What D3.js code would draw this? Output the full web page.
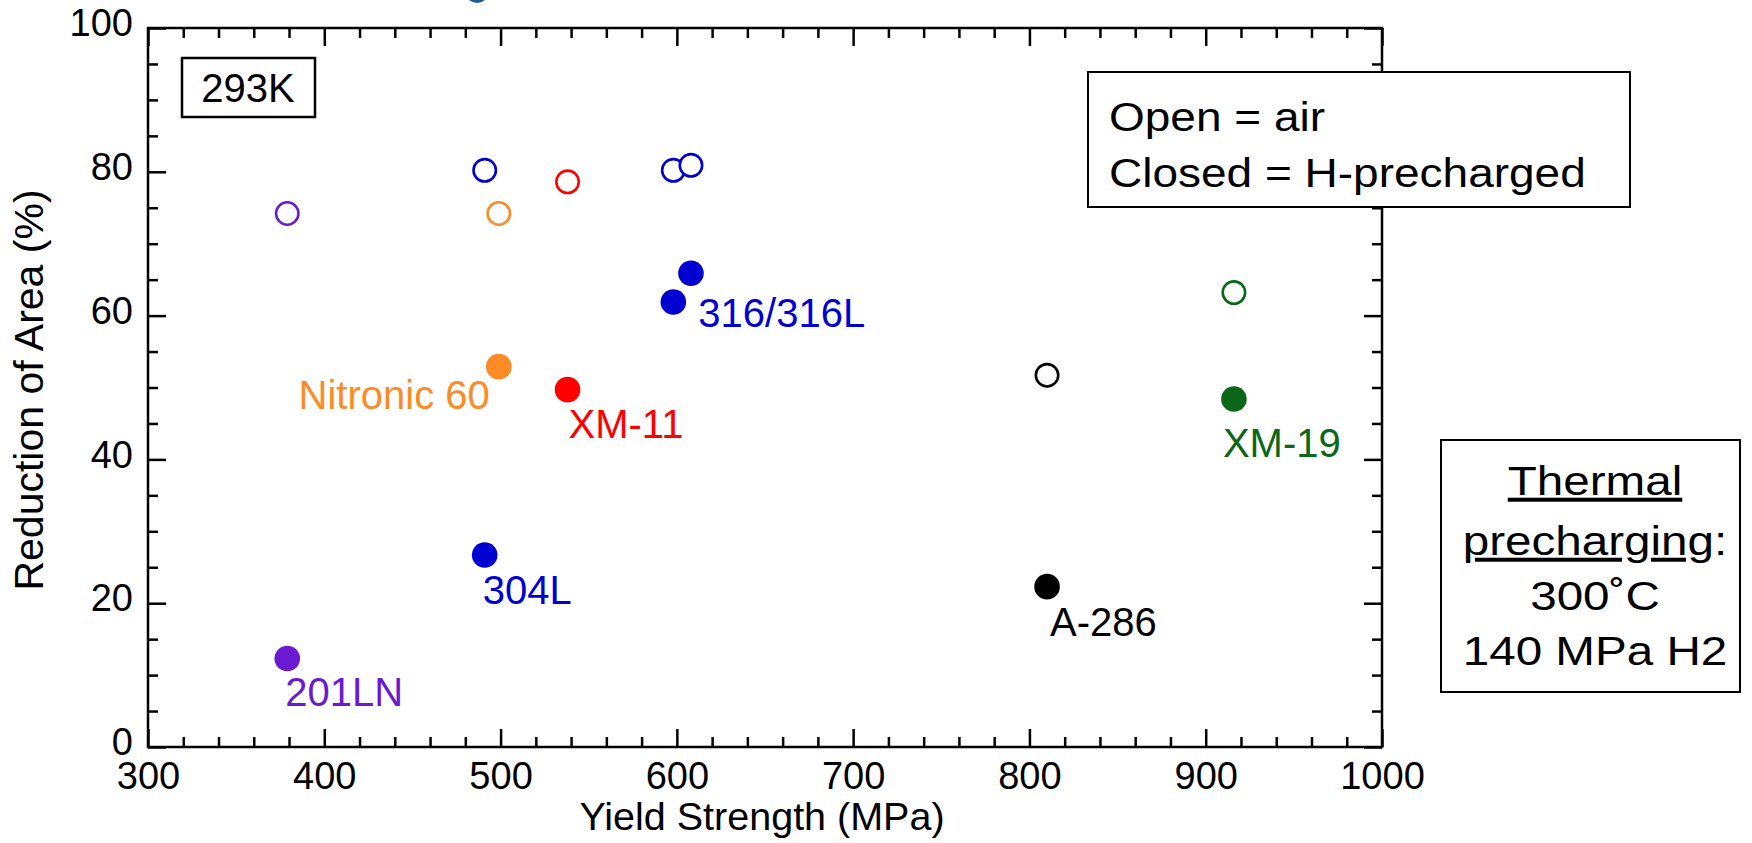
<!DOCTYPE html>
<html>
<head>
<meta charset="utf-8">
<script src="https://cdn.jsdelivr.net/npm/d3@7"></script>
<style>
body { margin: 0; background: #fff; }
text { font-family: "Liberation Sans", Arial, Helvetica, sans-serif; }
</style>
</head>
<body>
<div id="chart"></div>
<script>
// one entry per alloy point (316/316L has two heats)
var alloys = ["201LN", "304L", "Nitronic 60", "XM-11", "316/316L", "316/316L", "A-286", "XM-19"];
var alloyColors = ["#6a1bd1", "#0000d0", "#fd8b25", "#ff0000", "#0000d0", "#0000d0", "#000000", "#0a6618"];
var yieldStrength = [379, 491, 499, 538, 598, 608, 810, 916];
var raAir = [74.2, 80.2, 74.2, 78.6, 80.2, 80.9, 51.7, 63.2];
var raPrecharged = [12.3, 26.7, 52.9, 49.7, 61.9, 65.9, 22.3, 48.4];

var xTicks = [300, 400, 500, 600, 700, 800, 900, 1000];
var yTicks = [0, 20, 40, 60, 80, 100];

// which precharged point carries the name label
var labelPoint = [0, 1, 2, 3, 4, 6, 7];

function init() {
    var w = 1752;
    var h = 843;
    var font = '"Liberation Sans", Arial, Helvetica, sans-serif';

    // label offsets from the marker, pixels
    var labelDx = {"201LN": -2, "304L": -2, "Nitronic 60": -9, "XM-11": 1, "316/316L": 25, "A-286": 3, "XM-19": -11};
    var labelDy = {"201LN": 47, "304L": 49, "Nitronic 60": 42, "XM-11": 48, "316/316L": 25, "A-286": 49, "XM-19": 58};
    var labelAnchor = {"Nitronic 60": "end"};

    var x = d3.scaleLinear().domain([300, 1000]).range([148, 1382]);
    var y = d3.scaleLinear().domain([0, 100]).range([747, 28]);

    var xMinor = d3.range(300, 1000, 20).filter(function(d) { return d % 100 != 0; });
    var yMinor = d3.range(0, 100, 5).filter(function(d) { return d % 20 != 0; });

    var svg = d3.select("#chart")
                .append("svg")
                .attr("width", w)
                .attr("height", h);

    // bit of a blue marker cut off at the top edge
    svg.append("circle")
        .attr("cx", 477).attr("cy", -9).attr("r", 10)
        .attr("fill", "none").attr("stroke", "#1d5c99").attr("stroke-width", 4);

    function tidy(g) {
        g.attr("font-family", font).attr("font-size", 38);
        g.select(".domain").remove();
        g.selectAll(".tick line").attr("stroke", "#000").attr("stroke-width", 2.5);
        g.selectAll(".tick text").attr("fill", "#000");
    }

    svg.append("g").attr("transform", "translate(0,747)")
        .call(d3.axisBottom(x).tickValues(xTicks).tickSize(-18).tickPadding(15).tickFormat(d3.format("d")))
        .call(tidy);
    svg.append("g").attr("transform", "translate(0,747)")
        .call(d3.axisBottom(x).tickValues(xMinor).tickSize(-10).tickFormat(""))
        .call(tidy);
    svg.append("g").attr("transform", "translate(0,28)")
        .call(d3.axisTop(x).tickValues(xTicks).tickSize(-18).tickFormat(""))
        .call(tidy);
    svg.append("g").attr("transform", "translate(0,28)")
        .call(d3.axisTop(x).tickValues(xMinor).tickSize(-10).tickFormat(""))
        .call(tidy);

    svg.append("g").attr("transform", "translate(148,0)")
        .call(d3.axisLeft(y).tickValues(yTicks).tickSize(-18).tickPadding(15))
        .call(tidy)
        .selectAll(".tick text").attr("dy", "0.2em");
    svg.append("g").attr("transform", "translate(148,0)")
        .call(d3.axisLeft(y).tickValues(yMinor).tickSize(-10).tickFormat(""))
        .call(tidy);
    svg.append("g").attr("transform", "translate(1382,0)")
        .call(d3.axisRight(y).tickValues(yTicks).tickSize(-18).tickFormat(""))
        .call(tidy);
    svg.append("g").attr("transform", "translate(1382,0)")
        .call(d3.axisRight(y).tickValues(yMinor).tickSize(-10).tickFormat(""))
        .call(tidy);

    svg.append("rect")
        .attr("x", x(300)).attr("y", y(100))
        .attr("width", x(1000) - x(300)).attr("height", y(0) - y(100))
        .attr("fill", "none").attr("stroke", "#000").attr("stroke-width", 2.5);

    // axis titles
    svg.append("text")
        .attr("x", 762).attr("y", 830)
        .attr("text-anchor", "middle")
        .style("font-size", "39.5px")
        .text("Yield Strength (MPa)");
    svg.append("text")
        .attr("transform", "translate(43,390) rotate(-90)")
        .attr("text-anchor", "middle")
        .style("font-size", "41px")
        .text("Reduction of Area (%)");

    // open = air
    svg.selectAll(".air")
        .data(yieldStrength)
        .enter()
        .append("circle")
        .attr("class", "air")
        .attr("cx", function(d) { return x(d); })
        .attr("cy", function(d, i) { return y(raAir[i]); })
        .attr("r", 11.2)
        .attr("fill", "#fff")
        .attr("stroke", function(d, i) { return alloyColors[i]; })
        .attr("stroke-width", 2.6);

    // closed = H-precharged
    svg.selectAll(".h2")
        .data(yieldStrength)
        .enter()
        .append("circle")
        .attr("class", "h2")
        .attr("cx", function(d) { return x(d); })
        .attr("cy", function(d, i) { return y(raPrecharged[i]); })
        .attr("r", 12.8)
        .attr("fill", function(d, i) { return alloyColors[i]; });

    svg.selectAll(".lbl")
        .data(labelPoint)
        .enter()
        .append("text")
        .attr("class", "lbl")
        .attr("x", function(i) { return x(yieldStrength[i]) + labelDx[alloys[i]]; })
        .attr("y", function(i) { return y(raPrecharged[i]) + labelDy[alloys[i]]; })
        .attr("text-anchor", function(i) { return labelAnchor[alloys[i]] || "start"; })
        .attr("fill", function(i) { return alloyColors[i]; })
        .style("font-size", "40px")
        .text(function(i) { return alloys[i]; });

    // temperature tag
    svg.append("rect")
        .attr("x", 182).attr("y", 58).attr("width", 133).attr("height", 59)
        .attr("fill", "#fff").attr("stroke", "#000").attr("stroke-width", 2.5);
    svg.append("text")
        .attr("x", 248).attr("y", 101.5)
        .attr("text-anchor", "middle")
        .style("font-size", "40px")
        .text("293K");

    // legend box
    svg.append("rect")
        .attr("x", 1088).attr("y", 72).attr("width", 542).attr("height", 135)
        .attr("fill", "#fff").attr("stroke", "#000").attr("stroke-width", 2);
    var legendLines = ["Open = air", "Closed = H-precharged"];
    svg.selectAll(".leg")
        .data(legendLines)
        .enter()
        .append("text")
        .attr("class", "leg")
        .attr("transform", function(d, i) { return "translate(1109," + (131 + i * 56) + ") scale(1.15,1)"; })
        .style("font-size", "40px")
        .text(function(d) { return d; });

    // conditions box
    svg.append("rect")
        .attr("x", 1441).attr("y", 440).attr("width", 299).attr("height", 252)
        .attr("fill", "#fff").attr("stroke", "#000").attr("stroke-width", 2);
    var cond = svg.append("g").attr("transform", "translate(1595,0) scale(1.19,1)");
    cond.append("text").attr("y", 495).attr("text-anchor", "middle").style("font-size", "40px")
        .append("tspan").style("text-decoration", "underline").text("Thermal");
    var t2 = cond.append("text").attr("y", 555).attr("text-anchor", "middle").style("font-size", "40px");
    t2.append("tspan").style("text-decoration", "underline").text("precharging");
    t2.append("tspan").text(":");
    cond.append("text").attr("y", 610).attr("text-anchor", "middle").style("font-size", "40px").text("300˚C");
    cond.append("text").attr("y", 665).attr("text-anchor", "middle").style("font-size", "40px").text("140 MPa H2");
}

window.onload = init;
</script>
</body>
</html>
